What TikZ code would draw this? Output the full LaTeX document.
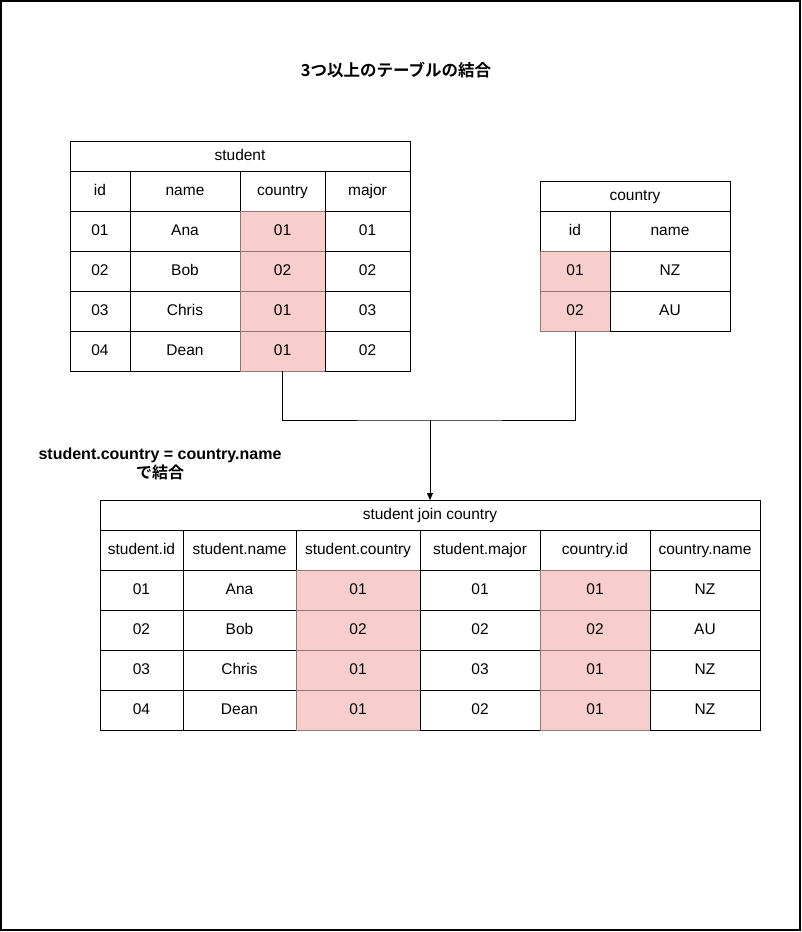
\documentclass[tikz,border=0pt]{standalone}
\usepackage{fontspec}
\setmainfont{Liberation Sans}
\newfontfamily\jpfont[BoldFont={Noto Sans CJK JP Bold}]{Noto Sans CJK JP}
\usetikzlibrary{arrows.meta}

\definecolor{keyfill}{HTML}{F8CECC}
\colorlet{keydraw}{keyfill!58!black}

\tikzset{
    cell/.style={draw, line width=1pt, rectangle, anchor=north west,
        inner sep=0pt, outer sep=0pt,
        font=\fontsize{15.5}{18}\selectfont, text height=11pt, text depth=3pt},
    keycell/.style={cell, fill=keyfill, draw=keydraw},
    boldlabel/.style={font=\bfseries\fontsize{16}{19}\selectfont, align=center},
    link/.style={draw, line width=1pt}
}

\begin{document}
\begin{tikzpicture}[x=1pt, y=-1pt]
    \useasboundingbox (0,0) rectangle (801,932);
    \draw[line width=1.3pt] (1,1) rectangle (800,930);

    \node[boldlabel, font=\jpfont\bfseries\fontsize{16.5}{19}\selectfont] (title) at (396,70) {3つ以上のテーブルの結合};

    % student table
    \node[cell, minimum width=340pt, minimum height=30pt] (s-title) at (70,141) {student};
    \foreach \row [count=\rw] in {{id,name,country,major},{01,Ana,01,01},{02,Bob,02,02},{03,Chris,01,03},{04,Dean,01,02}}{
        \foreach \txt [count=\col] in \row {
            \pgfmathsetmacro\cx{{70,130,240,325,410}[\col-1]}
            \pgfmathsetmacro\cw{{70,130,240,325,410}[\col]-\cx}
            \pgfmathtruncatemacro\hl{(\col==3)&&(\rw>1)}
            \ifnum\hl=1 \def\sty{keycell}\else\def\sty{cell}\fi
            \node[\sty, minimum width=\cw pt, minimum height=40pt] (s-\rw-\col) at (\cx,131+40*\rw) {\txt};
        }
    }

    % country table
    \node[cell, minimum width=190pt, minimum height=30pt] (c-title) at (540,181) {country};
    \foreach \row [count=\rw] in {{id,name},{01,NZ},{02,AU}}{
        \foreach \txt [count=\col] in \row {
            \pgfmathsetmacro\cx{{540,610,730}[\col-1]}
            \pgfmathsetmacro\cw{{540,610,730}[\col]-\cx}
            \pgfmathtruncatemacro\hl{(\col==1)&&(\rw>1)}
            \ifnum\hl=1 \def\sty{keycell}\else\def\sty{cell}\fi
            \node[\sty, minimum width=\cw pt, minimum height=40pt] (c-\rw-\col) at (\cx,171+40*\rw) {\txt};
        }
    }

    % joined table
    \node[cell, minimum width=660pt, minimum height=30pt] (j-title) at (100,500) {student join country};
    \foreach \row [count=\rw] in {{student.id,student.name,student.country,student.major,country.id,country.name},
        {01,Ana,01,01,01,NZ},{02,Bob,02,02,02,AU},{03,Chris,01,03,01,NZ},{04,Dean,01,02,01,NZ}}{
        \foreach \txt [count=\col] in \row {
            \pgfmathsetmacro\cx{{100,183,296,420,540,650,760}[\col-1]}
            \pgfmathsetmacro\cw{{100,183,296,420,540,650,760}[\col]-\cx}
            \pgfmathtruncatemacro\hl{((\col==3)||(\col==5))&&(\rw>1)}
            \ifnum\hl=1 \def\sty{keycell}\else\def\sty{cell}\fi
            \node[\sty, minimum width=\cw pt, minimum height=40pt] (j-\rw-\col) at (\cx,490+40*\rw) {\txt};
        }
    }

    % join condition
    \coordinate (merge) at (430,420);
    \draw[link] (s-5-3.south) |- (merge) -| (c-3-1.south);
    \draw[link, -{Triangle[length=7pt, width=6pt]}] (merge) -- (j-title.north);
    \node[boldlabel] (cond) at (160,464) {student.country = country.name\\{\jpfont\bfseries で結合}};
\end{tikzpicture}
\end{document}
